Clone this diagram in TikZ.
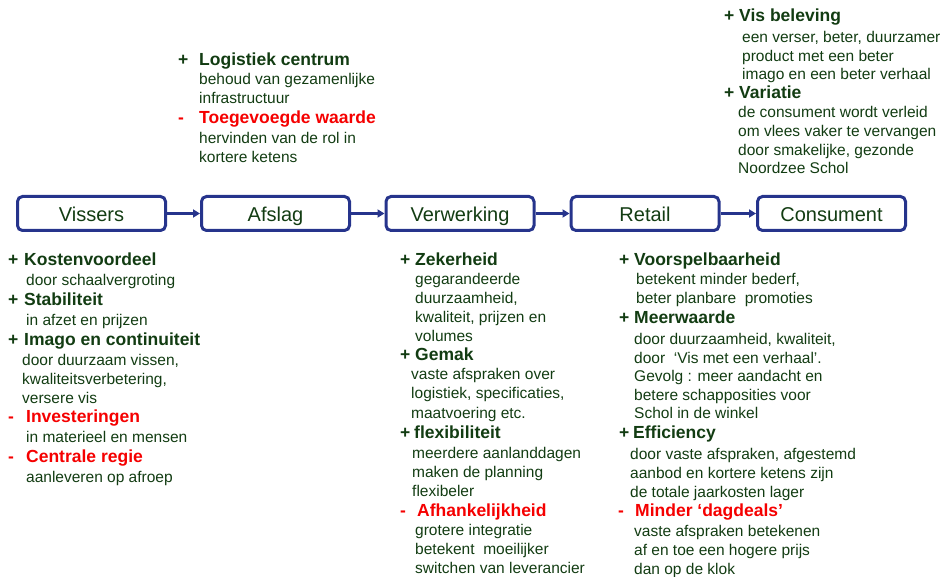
\documentclass[tikz,border=0pt]{standalone}
\usepackage{fontspec}
\setmainfont{Liberation Sans}
\usetikzlibrary{arrows.meta}
\definecolor{tg}{RGB}{18,60,18}
\definecolor{bx}{RGB}{38,52,140}
\definecolor{rd}{RGB}{245,0,0}
\newcommand\sgn[2]{\makebox[#1pt][l]{#2}}
\begin{document}
\begin{tikzpicture}[x=1pt,y=-1pt,
 hd/.style={anchor=mid west,inner sep=0pt,text=tg,font=\fontsize{17.5}{20}\selectfont\bfseries},
 neg/.style={text=rd},
 bd/.style={anchor=mid west,inner sep=0pt,text=tg,font=\fontsize{15.5}{18}\selectfont},
 stage/.style={draw=bx,line width=3pt,rounded corners=5pt,minimum width=148pt,minimum height=34pt,inner sep=0pt,text height=16.5pt,text depth=0pt,text=tg,font=\fontsize{20}{22}\selectfont},
 flow/.style={draw=bx,line width=2.8pt,-{Triangle[length=7pt,width=8pt]}}]
\useasboundingbox (0,0) rectangle (942,577);

% chain
\node[stage] (vis) at (91.5,213.5) {Vissers};
\node[stage] (afs) at (275.5,213.5) {Afslag};
\node[stage] (ver) at (460,213.5) {Verwerking};
\node[stage] (ret) at (645,213.5) {Retail};
\node[stage] (con) at (831.5,213.5) {Consument};
\draw[flow] (vis) -- (afs);
\draw[flow] (afs) -- (ver);
\draw[flow] (ver) -- (ret);
\draw[flow] (ret) -- (con);

\begin{scope}[shift={(0,3.5)}]
% Afslag (top)
\node[hd] (a1) at (178,59) {\sgn{21}{+}Logistiek centrum};
\node[bd] (a2) at (199,78) {behoud van gezamenlijke};
\node[bd] (a3) at (199,97) {infrastructuur};
\node[hd,neg] (a4) at (178,117) {\sgn{21}{-}Toegevoegde waarde};
\node[bd] (a5) at (199,137) {hervinden van de rol in};
\node[bd] (a6) at (199,156) {kortere ketens};

% Consument (top)
\node[hd] (c1) at (724,15) {\sgn{15}{+}Vis beleving};
\node[bd] (c2) at (742,36) {een verser, beter, duurzamer};
\node[bd] (c3) at (742,55) {product met een beter};
\node[bd] (c4) at (742,73) {imago en een beter verhaal};
\node[hd] (c5) at (724,92) {\sgn{15}{+}Variatie};
\node[bd] (c6) at (738,111) {de consument wordt verleid};
\node[bd] (c7) at (738,130) {om vlees vaker te vervangen};
\node[bd] (c8) at (738,149) {door smakelijke, gezonde};
\node[bd] (c9) at (738,167) {Noordzee Schol};

% Vissers (bottom)
\node[hd] (v1) at (8,259) {\sgn{16}{+}Kostenvoordeel};
\node[bd] (v2) at (26,279) {door schaalvergroting};
\node[hd] (v3) at (8,299) {\sgn{16}{+}Stabiliteit};
\node[bd] (v4) at (26,319) {in afzet en prijzen};
\node[hd] (v5) at (8,339) {\sgn{16}{+}Imago en continuiteit};
\node[bd] (v6) at (22,359) {door duurzaam vissen,};
\node[bd] (v7) at (22,378) {kwaliteitsverbetering,};
\node[bd] (v8) at (22,397) {versere vis};
\node[hd,neg] (v9) at (8,416) {\sgn{18}{-}Investeringen};
\node[bd] (v10) at (26,436) {in materieel en mensen};
\node[hd,neg] (v11) at (8,456) {\sgn{18}{-}Centrale regie};
\node[bd] (v12) at (26,476) {aanleveren op afroep};

% Verwerking (bottom)
\node[hd] (w1) at (400,259) {\sgn{15}{+}Zekerheid};
\node[bd] (w2) at (415,278) {gegarandeerde};
\node[bd] (w3) at (415,297) {duurzaamheid,};
\node[bd] (w4) at (415,316) {kwaliteit, prijzen en};
\node[bd] (w5) at (415,335) {volumes};
\node[hd] (w6) at (400,354) {\sgn{15}{+}Gemak};
\node[bd] (w7) at (411,373) {vaste afspraken over};
\node[bd] (w8) at (411,392) {logistiek, specificaties,};
\node[bd] (w9) at (411,412) {maatvoering etc.};
\node[hd] (w10) at (400,432) {\sgn{14}{+}flexibiliteit};
\node[bd] (w11) at (412,452) {meerdere aanlanddagen};
\node[bd] (w12) at (412,471) {maken de planning};
\node[bd] (w13) at (412,490) {flexibeler};
\node[hd,neg] (w14) at (400,510) {\sgn{17}{-}Afhankelijkheid};
\node[bd] (w15) at (415,529) {grotere integratie};
\node[bd] (w16) at (415,548) {betekent\ \ moeilijker};
\node[bd] (w17) at (415,567) {switchen van leverancier};

% Retail (bottom)
\node[hd] (r1) at (619,259) {\sgn{15}{+}Voorspelbaarheid};
\node[bd] (r2) at (636,278) {betekent minder bederf,};
\node[bd] (r3) at (636,297) {beter planbare\ \ promoties};
\node[hd] (r4) at (619,317) {\sgn{15}{+}Meerwaarde};
\node[bd] (r5) at (634,338) {door duurzaamheid, kwaliteit,};
\node[bd] (r6) at (634,357) {door\ \ ‘Vis met een verhaal’.};
\node[bd] (r7) at (634,375) {Gevolg : meer aandacht en};
\node[bd] (r8) at (634,394) {betere schapposities voor};
\node[bd] (r9) at (634,412) {Schol in de winkel};
\node[hd] (r10) at (619,432) {\sgn{14}{+}Efficiency};
\node[bd] (r11) at (630,453) {door vaste afspraken, afgestemd};
\node[bd] (r12) at (630,472) {aanbod en kortere ketens zijn};
\node[bd] (r13) at (630,491) {de totale jaarkosten lager};
\node[hd,neg] (r14) at (618,510) {\sgn{17}{-}Minder ‘dagdeals’};
\node[bd] (r15) at (634,530) {vaste afspraken betekenen};
\node[bd] (r16) at (634,549) {af en toe een hogere prijs};
\node[bd] (r17) at (634,568) {dan op de klok};
\end{scope}
\end{tikzpicture}
\end{document}
